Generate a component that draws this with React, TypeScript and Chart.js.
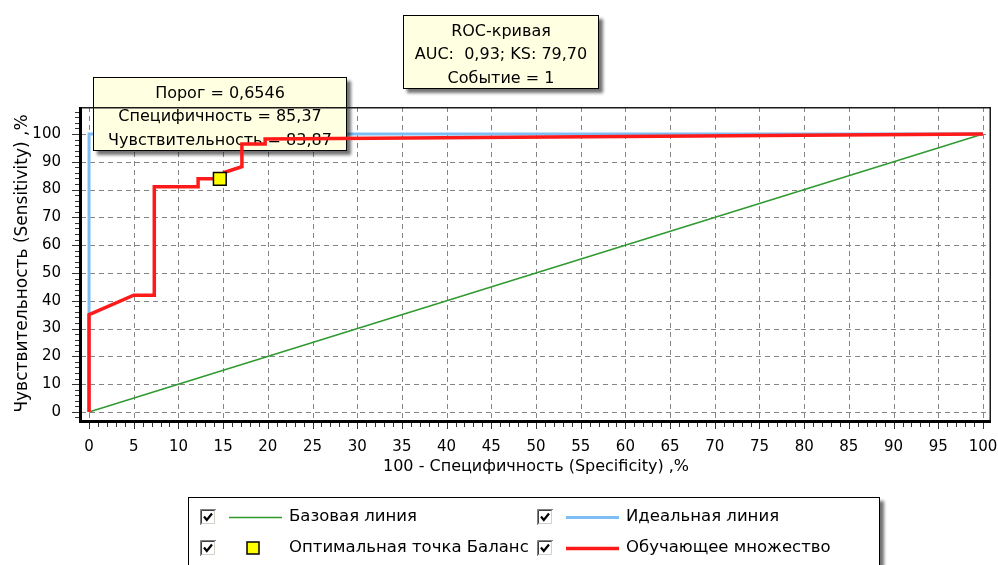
import React, { useEffect, useRef } from "react";
import { Chart, registerables } from "chart.js";

Chart.register(...registerables);

// ---- data ----
const baseX = [0, 100];
const baseY = [0, 100];
const idealX = [0, 0, 100];
const idealY = [0, 100, 100];
const trainX = [0, 0, 5, 7.3, 7.3, 12.2, 12.2, 14.63, 15.1, 17.1, 17.1, 19.7, 19.7, 100];
const trainY = [0, 35, 42, 42, 81, 81, 83.87, 83.87, 86.1, 88.2, 96.4, 96.4, 98.2, 100];
const optimalX = [14.63];
const optimalY = [83.87];

const xTicks = [0, 5, 10, 15, 20, 25, 30, 35, 40, 45, 50, 55, 60, 65, 70, 75, 80, 85, 90, 95, 100];
const yTicks = [0, 10, 20, 30, 40, 50, 60, 70, 80, 90, 100];

const seriesLabels = ["Базовая линия", "Идеальная линия", "Оптимальная точка Баланс", "Обучающее множество"];
const titleLines = ["ROC-кривая", "AUC:  0,93; KS: 79,70", "Событие = 1"];
const pointLines = ["Порог = 0,6546", "Специфичность = 85,37", "Чувствительность = 83,87"];
const xTitle = "100 - Специфичность (Specificity) ,%";
const yTitle = "Чувствительность (Sensitivity) ,%";

const FONT = '"DejaVu Sans", "Liberation Sans", sans-serif';

const zip = (xs: number[], ys: number[]) => xs.map((x, i) => ({ x, y: ys[i] }));

function drawBox(ctx: CanvasRenderingContext2D, x: number, y: number, w: number, h: number, lines: string[]) {
  ctx.save();
  ctx.shadowColor = "rgba(0,0,0,0.55)";
  ctx.shadowOffsetX = 4;
  ctx.shadowOffsetY = 4;
  ctx.shadowBlur = 3;
  ctx.fillStyle = "#ffffe1";
  ctx.fillRect(x, y, w, h);
  ctx.restore();
  ctx.save();
  ctx.strokeStyle = "#000";
  ctx.lineWidth = 1;
  ctx.strokeRect(x + 0.5, y + 0.5, w - 1, h - 1);
  ctx.fillStyle = "#000";
  ctx.font = `16px ${FONT}`;
  ctx.textAlign = "center";
  ctx.textBaseline = "middle";
  lines.forEach((t, i) => ctx.fillText(t, x + w / 2, y + 16.5 + i * 23.5));
  ctx.restore();
}

function drawCheckbox(ctx: CanvasRenderingContext2D, bx: number, by: number) {
  const s = 16;
  ctx.save();
  ctx.fillStyle = "#fff";
  ctx.fillRect(bx, by, s, s);
  ctx.lineWidth = 1;
  ctx.strokeStyle = "#808080";
  ctx.beginPath();
  ctx.moveTo(bx + 0.5, by + s);
  ctx.lineTo(bx + 0.5, by + 0.5);
  ctx.lineTo(bx + s, by + 0.5);
  ctx.stroke();
  ctx.strokeStyle = "#404040";
  ctx.beginPath();
  ctx.moveTo(bx + 1.5, by + s - 1);
  ctx.lineTo(bx + 1.5, by + 1.5);
  ctx.lineTo(bx + s - 1, by + 1.5);
  ctx.stroke();
  ctx.strokeStyle = "#d4d0c8";
  ctx.beginPath();
  ctx.moveTo(bx + 1.5, by + s - 1.5);
  ctx.lineTo(bx + s - 1.5, by + s - 1.5);
  ctx.lineTo(bx + s - 1.5, by + 1.5);
  ctx.stroke();
  ctx.strokeStyle = "#000";
  ctx.lineWidth = 2.2;
  ctx.beginPath();
  ctx.moveTo(bx + 4, by + 7.5);
  ctx.lineTo(bx + 6.8, by + 11);
  ctx.lineTo(bx + 12, by + 4.5);
  ctx.stroke();
  ctx.restore();
}

const decor = {
  id: "decor",
  beforeDatasetsDraw(chart: any) {
    const { ctx, chartArea: a, scales } = chart;
    const x = scales.x, y = scales.y;
    ctx.save();
    ctx.strokeStyle = "#858585";
    ctx.lineWidth = 1;
    ctx.setLineDash([5, 4]);
    for (const v of xTicks) {
      const px = Math.round(x.getPixelForValue(v)) + 0.5;
      ctx.beginPath();
      ctx.moveTo(px, a.top);
      ctx.lineTo(px, a.bottom);
      ctx.stroke();
    }
    for (const v of yTicks) {
      const py = Math.round(y.getPixelForValue(v)) + 0.5;
      ctx.beginPath();
      ctx.moveTo(a.left, py);
      ctx.lineTo(a.right, py);
      ctx.stroke();
    }
    ctx.restore();
  },
  afterDatasetDraw(chart: any, args: any) {
    if (args.index !== 1) return;
    const { ctx, scales } = chart;
    const px = scales.x.getPixelForValue(optimalX[0]);
    const py = scales.y.getPixelForValue(optimalY[0]);
    const w = 254, h = 74;
    drawBox(ctx, Math.round(px - w / 2), Math.round(py - 28 - h), w, h, pointLines);
  },
  afterDraw(chart: any) {
    const { ctx, chartArea: a, scales } = chart;
    const x = scales.x, y = scales.y;
    ctx.save();
    // frame
    ctx.strokeStyle = "#1a1a1a";
    ctx.lineWidth = 1.5;
    ctx.beginPath();
    ctx.moveTo(a.left, a.top + 0.75);
    ctx.lineTo(a.right - 0.75, a.top + 0.75);
    ctx.lineTo(a.right - 0.75, a.bottom);
    ctx.stroke();
    ctx.strokeStyle = "#000";
    ctx.lineWidth = 3;
    ctx.beginPath();
    ctx.moveTo(a.left - 0.5, a.top);
    ctx.lineTo(a.left - 0.5, a.bottom + 1.5);
    ctx.lineTo(a.right, a.bottom + 1.5);
    ctx.stroke();
    // ticks
    ctx.lineWidth = 1;
    ctx.strokeStyle = "#333";
    for (let v = Math.ceil(x.min); v <= x.max; v += 1) {
      const px = Math.round(x.getPixelForValue(v)) + 0.5;
      const len = v % 5 === 0 ? 6 : 4;
      ctx.beginPath();
      ctx.moveTo(px, a.bottom + 3);
      ctx.lineTo(px, a.bottom + 3 + len);
      ctx.stroke();
    }
    for (let v = Math.ceil(y.min / 2) * 2; v <= y.max; v += 2) {
      const py = Math.round(y.getPixelForValue(v)) + 0.5;
      const len = v % 10 === 0 ? 7 : 4;
      ctx.beginPath();
      ctx.moveTo(a.left - 2, py);
      ctx.lineTo(a.left - 2 - len, py);
      ctx.stroke();
    }
    ctx.restore();

    // title box
    const tw = 196, th = 74;
    drawBox(ctx, Math.round(chart.width / 2 - tw / 2) + 2, 15, tw, th, titleLines);

    // legend
    const L = 188, T = 497, R = 880, B = 585;
    ctx.save();
    ctx.shadowColor = "rgba(0,0,0,0.55)";
    ctx.shadowOffsetX = 4;
    ctx.shadowOffsetY = 4;
    ctx.shadowBlur = 3;
    ctx.fillStyle = "#fff";
    ctx.fillRect(L, T, R - L, B - T);
    ctx.restore();
    ctx.save();
    ctx.strokeStyle = "#000";
    ctx.lineWidth = 1;
    ctx.strokeRect(L + 0.5, T + 0.5, R - L - 1, B - T - 1);
    const colX = [200, 537];
    const rowY = [517, 548];
    chart.data.datasets.forEach((ds: any, i: number) => {
      const cx = colX[i % 2];
      const cy = rowY[Math.floor(i / 2)];
      drawCheckbox(ctx, cx, cy - 8);
      if (ds.showLine) {
        ctx.strokeStyle = ds.borderColor;
        ctx.lineWidth = ds.borderWidth;
        ctx.beginPath();
        ctx.moveTo(cx + 29, cy + 0.5);
        ctx.lineTo(cx + 82, cy + 0.5);
        ctx.stroke();
      } else {
        ctx.fillStyle = ds.backgroundColor;
        ctx.fillRect(cx + 47, cy - 6, 12, 12);
        ctx.strokeStyle = "#000";
        ctx.lineWidth = 1.5;
        ctx.strokeRect(cx + 47, cy - 6, 12, 12);
      }
      ctx.fillStyle = "#000";
      ctx.font = `16.5px ${FONT}`;
      ctx.textAlign = "left";
      ctx.textBaseline = "middle";
      ctx.fillText(ds.label, cx + 89, cy);
    });
    ctx.restore();
  },
};

export default function App() {
  const ref = useRef<HTMLCanvasElement>(null);
  useEffect(() => {
    document.body.style.margin = "0";
    const canvas = ref.current!;
    const chart = new Chart(canvas, {
      type: "scatter",
      data: {
        datasets: [
          {
            label: seriesLabels[0],
            data: zip(baseX, baseY),
            showLine: true,
            borderColor: "#2f9a2f",
            borderWidth: 1.5,
            pointRadius: 0,
            order: 4,
          },
          {
            label: seriesLabels[1],
            data: zip(idealX, idealY),
            showLine: true,
            borderColor: "#7fbdf5",
            borderWidth: 3,
            pointRadius: 0,
            order: 3,
          },
          {
            label: seriesLabels[2],
            data: zip(optimalX, optimalY),
            showLine: false,
            pointStyle: "rect",
            pointRadius: 9,
            backgroundColor: "#ffff00",
            borderColor: "#000",
            borderWidth: 1.5,
            order: 1,
          },
          {
            label: seriesLabels[3],
            data: zip(trainX, trainY),
            showLine: true,
            borderColor: "#ff1a1a",
            borderWidth: 3.5,
            pointRadius: 0,
            order: 2,
          },
        ] as any,
      },
      options: {
        responsive: false,
        animation: false,
        events: [],
        layout: { autoPadding: false, padding: { top: 107, right: 7, left: 0, bottom: 0 } },
        plugins: { legend: { display: false }, tooltip: { enabled: false } },
        scales: {
          x: {
            type: "linear",
            min: -0.9,
            max: 100.9,
            afterBuildTicks: (s: any) => {
              s.ticks = xTicks.map((v) => ({ value: v }));
            },
            afterFit: (s: any) => {
              s.height = 145;
              s.paddingLeft = 0;
              s.paddingRight = 0;
            },
            grid: { display: false },
            border: { display: false },
            ticks: {
              color: "#000",
              font: { family: FONT, size: 15 },
              padding: 10,
              maxRotation: 0,
              autoSkip: false,
            },
            title: {
              display: true,
              text: xTitle,
              color: "#000",
              font: { family: FONT, size: 16 },
              padding: { top: 0, bottom: 89 },
            },
          },
          y: {
            type: "linear",
            min: -2.9,
            max: 109.7,
            afterBuildTicks: (s: any) => {
              s.ticks = yTicks.map((v) => ({ value: v }));
            },
            afterFit: (s: any) => {
              s.width = 81;
              s.paddingTop = 0;
              s.paddingBottom = 0;
            },
            grid: { display: false },
            border: { display: false },
            ticks: {
              color: "#000",
              font: { family: FONT, size: 15 },
              padding: 12,
              autoSkip: false,
            },
            title: {
              display: true,
              text: yTitle,
              color: "#000",
              font: { family: FONT, size: 17 },
              padding: { top: 12, bottom: 0 },
            },
          },
        },
      },
      plugins: [decor],
    } as any);
    return () => chart.destroy();
  }, []);
  return (
    <div style={{ width: 998, height: 565 }}>
      <canvas ref={ref} width={998} height={565} style={{ display: "block" }} />
    </div>
  );
}
